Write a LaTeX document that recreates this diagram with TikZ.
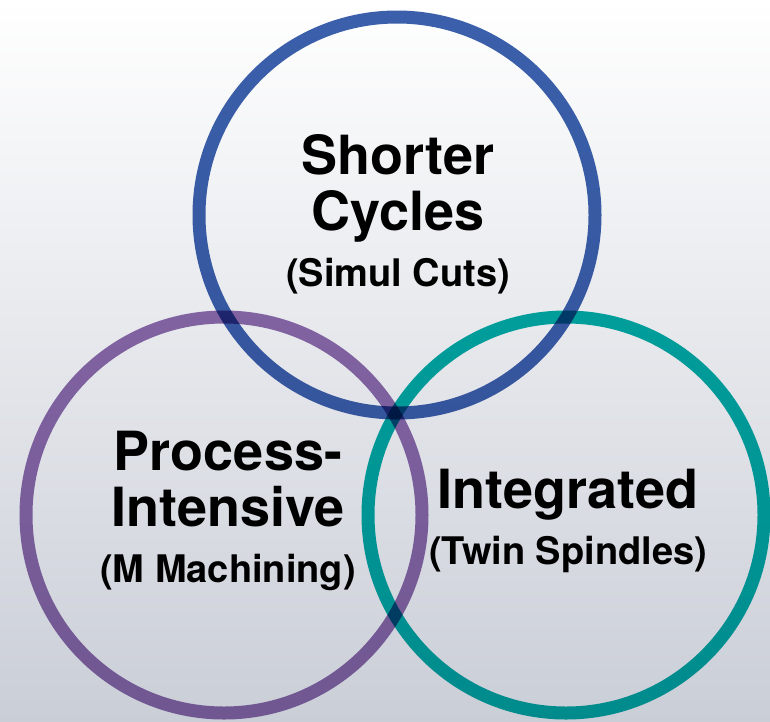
\documentclass[tikz,border=0pt]{standalone}
\usepackage{fontspec}
\setmainfont{TeX Gyre Heros}
\definecolor{cycleblue}{RGB}{60,96,172}
\definecolor{processpurple}{RGB}{142,108,173}
\definecolor{integteal}{RGB}{0,172,167}
\definecolor{bgmid}{RGB}{236,238,242}
\definecolor{bgbottom}{RGB}{202,206,215}
\tikzset{
	ring/.style={draw=#1, circle, line width=13pt, minimum size=396pt, inner sep=0pt, outer sep=0pt, blend mode=multiply},
	ringtext/.style={align=center, font=\fontsize{54}{56}\selectfont\bfseries, inner sep=0pt}
}
\newcommand{\subline}[1]{{\fontsize{38}{40}\selectfont #1}}
\begin{document}
\begin{tikzpicture}[x=1pt,y=-1pt]
		
		\shade[top color=white, middle color=bgmid, bottom color=bgbottom] (0,0) rectangle (770,721);
		\useasboundingbox (0,0) rectangle (770,721);
		
		\node[ring=cycleblue] (shorter) at (397,215){};
		\node[ring=processpurple] (process) at (224,515){};
		\node[ring=integteal] (integrated) at (566,515){};
		
		\node[ringtext] (shorterlbl) at (398,214){Shorter\\Cycles\\\subline{(Simul Cuts)}};
		\node[ringtext] (processlbl) at (228,511){Process-\\Intensive\\\subline{(M Machining)}};
		\node[ringtext] (integratedlbl) at (568,521){Integrated\\\subline{(Twin Spindles)}};
		
		\end{tikzpicture}
\end{document}
